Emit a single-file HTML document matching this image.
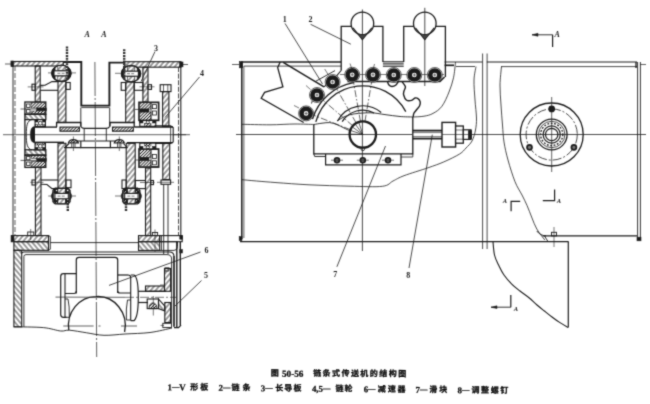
<!DOCTYPE html>
<html><head><meta charset="utf-8"><title>Fig 50-56</title>
<style>
html,body{margin:0;padding:0;background:#fff;width:650px;height:404px;overflow:hidden;}
body{width:650px;height:404px;overflow:hidden;position:relative;font-family:"Liberation Serif",serif;}
svg{position:absolute;left:0;top:0;display:block;will-change:transform;}
.cap{position:absolute;left:0;top:0;width:650px;height:404px;overflow:hidden;will-change:transform;filter:url(#sb);color:#0a0a0a;font-family:"Liberation Serif",serif;}
.cap div{position:absolute;left:0;top:0;width:650px;height:404px;}
.cap span{position:absolute;white-space:nowrap;line-height:10px;height:10px;font-weight:bold;-webkit-text-stroke:0.25px #0a0a0a;}
.r1{transform:rotate(0.3deg);transform-origin:338px 373px;}
.r2{transform:rotate(0.6deg);transform-origin:338px 389px;}
.t{font-size:9.2px;top:368.6px;}
.n{font-size:8.8px;top:383.9px;}
.n u{text-decoration:none;font-size:7.4px;position:relative;top:-1.3px;}
</style></head><body>
<svg width="650" height="404" viewBox="0 0 650 404" fill="none" stroke-linecap="butt">
<defs>
<pattern id="h1" width="3.8" height="3.8" patternUnits="userSpaceOnUse" patternTransform="rotate(-50)"><line x1="0" y1="1.9" x2="3.8" y2="1.9" stroke="#1c1c1c" stroke-width="0.85"/></pattern>
<pattern id="h2" width="3.8" height="3.8" patternUnits="userSpaceOnUse" patternTransform="rotate(50)"><line x1="0" y1="1.9" x2="3.8" y2="1.9" stroke="#1c1c1c" stroke-width="0.85"/></pattern>
<pattern id="h4" width="1.7" height="1.7" patternUnits="userSpaceOnUse" patternTransform="rotate(-45)"><line x1="0" y1="0.85" x2="1.7" y2="0.85" stroke="#1c1c1c" stroke-width="1.1"/></pattern>
<pattern id="h3" width="2.2" height="2.2" patternUnits="userSpaceOnUse" patternTransform="rotate(-45)"><line x1="0" y1="1.1" x2="2.2" y2="1.1" stroke="#1c1c1c" stroke-width="0.9"/></pattern>
<pattern id="bk" width="11" height="9" patternUnits="userSpaceOnUse"><rect width="11" height="9" fill="#1c1c1c"/><rect x="0.9" y="0.8" width="1.5" height="1.3" fill="#fff"/><path d="M3.4 3.8 L5 2.3 M7.6 7.6 L9.3 6.2 M1 7.8 L2.4 6.8 M8.3 2.6 L9.8 1.2" stroke="#fff" stroke-width="0.8"/><rect x="5.8" y="0.5" width="1.1" height="1" fill="#e4e4e4"/><rect x="4.2" y="5.4" width="1.6" height="1.2" fill="#fff"/><rect x="9.2" y="4" width="1" height="1.3" fill="#eee"/><rect x="1.2" y="4.2" width="0.9" height="1" fill="#ddd"/></pattern>
<filter id="sb" x="0" y="0" width="650" height="404" filterUnits="userSpaceOnUse" color-interpolation-filters="sRGB"><feConvolveMatrix order="3" kernelMatrix="0.03 0.1 0.03 0.1 0.48 0.1 0.03 0.1 0.03" divisor="1" edgeMode="duplicate" preserveAlpha="false"/></filter>
</defs>
<g filter="url(#sb)">
<line x1="94.9" y1="62" x2="96.7" y2="357" stroke="#1c1c1c" stroke-width="0.7" stroke-dasharray="34 2 2 2"/>
<line x1="3" y1="134.7" x2="190" y2="134.7" stroke="#1c1c1c" stroke-width="0.7"/>
<text x="87.2" y="36.8" font-family="'Liberation Serif', serif" font-size="8" font-weight="bold" text-anchor="middle" fill="#1c1c1c" font-style="italic">A</text>
<text x="103.8" y="36.8" font-family="'Liberation Serif', serif" font-size="8" font-weight="bold" text-anchor="middle" fill="#1c1c1c" font-style="italic">A</text>
<rect x="12.3" y="61.5" width="51" height="4.5" fill="url(#h1)" stroke="#1c1c1c" stroke-width="1.1"/>
<rect x="124.7" y="61.7" width="56.3" height="5.5" fill="url(#h1)" stroke="#1c1c1c" stroke-width="1.1"/>
<rect x="10.9" y="61" width="2.6" height="5.6" fill="#1c1c1c" stroke="#1c1c1c" stroke-width="0.6"/>
<rect x="179.6" y="62" width="3.4" height="4.8" fill="#1c1c1c" stroke="#1c1c1c" stroke-width="0.6"/>
<line x1="181" y1="64.5" x2="188" y2="64.5" stroke="#1c1c1c" stroke-width="0.7"/>
<line x1="5" y1="64" x2="12" y2="64" stroke="#1c1c1c" stroke-width="0.7"/>
<path d="M63.3 62 L81.3 62 L81.3 105.6 L109.4 105.6 L109.4 62.6 L124.7 62.6" fill="none" stroke="#1c1c1c" stroke-width="1.9"/>
<line x1="81.3" y1="107.6" x2="109.4" y2="107.6" stroke="#1c1c1c" stroke-width="0.8"/>
<line x1="80.8" y1="107.6" x2="80.8" y2="126.5" stroke="#1c1c1c" stroke-width="0.9"/>
<line x1="109.7" y1="107.6" x2="109.7" y2="126.5" stroke="#1c1c1c" stroke-width="0.9"/>
<line x1="13" y1="66" x2="13" y2="235.6" stroke="#1c1c1c" stroke-width="0.9"/>
<line x1="15" y1="66" x2="15" y2="235.6" stroke="#1c1c1c" stroke-width="0.7" stroke-dasharray="5 2"/>
<line x1="178.5" y1="67" x2="178.5" y2="235.6" stroke="#1c1c1c" stroke-width="0.8" stroke-dasharray="5 1.6"/>
<line x1="180.8" y1="67" x2="180.8" y2="235.6" stroke="#1c1c1c" stroke-width="1.1"/>
<rect x="35.2" y="66" width="5" height="36" fill="url(#h1)" stroke="#1c1c1c" stroke-width="1.1"/>
<rect x="35.4" y="167" width="5.6" height="68.6" fill="url(#h1)" stroke="#1c1c1c" stroke-width="1.1"/>
<rect x="142.9" y="67.2" width="5.1" height="34.8" fill="url(#h1)" stroke="#1c1c1c" stroke-width="1.1"/>
<rect x="145.5" y="168" width="5.2" height="67.6" fill="url(#h1)" stroke="#1c1c1c" stroke-width="1.1"/>
<rect x="58" y="80.7" width="7.9" height="41.8" fill="url(#h1)" stroke="#1c1c1c" stroke-width="1.1"/>
<rect x="58" y="143.3" width="7.9" height="45.3" fill="url(#h1)" stroke="#1c1c1c" stroke-width="1.1"/>
<rect x="125.7" y="82" width="8.5" height="40.5" fill="url(#h1)" stroke="#1c1c1c" stroke-width="1.1"/>
<rect x="126.2" y="143.3" width="9" height="45.3" fill="url(#h1)" stroke="#1c1c1c" stroke-width="1.1"/>
<rect x="160.2" y="84.7" width="10.8" height="6.9" fill="none" stroke="#1c1c1c" stroke-width="1.1"/>
<line x1="163.5" y1="84.7" x2="163.5" y2="91.6" stroke="#1c1c1c" stroke-width="0.7"/>
<line x1="167.8" y1="84.7" x2="167.8" y2="91.6" stroke="#1c1c1c" stroke-width="0.7"/>
<rect x="162.6" y="91.6" width="6.3" height="34.9" fill="url(#h1)" stroke="#1c1c1c" stroke-width="1.1"/>
<rect x="162.8" y="143" width="6.9" height="36.5" fill="url(#h1)" stroke="#1c1c1c" stroke-width="1.1"/>
<rect x="161" y="180" width="9.6" height="4.3" fill="none" stroke="#1c1c1c" stroke-width="1.1"/>
<line x1="163.7" y1="184.3" x2="163.7" y2="254" stroke="#1c1c1c" stroke-width="0.9"/>
<line x1="168" y1="184.3" x2="168" y2="254" stroke="#1c1c1c" stroke-width="0.9"/>
<line x1="157" y1="182.3" x2="174" y2="182.3" stroke="#1c1c1c" stroke-width="0.6"/>
<ellipse cx="61.4" cy="73.3" rx="9.5" ry="8.2" fill="#fff" stroke="#1c1c1c" stroke-width="1.4"/>
<rect x="57.8" y="65.6" width="7.4" height="5.1" fill="url(#h1)" stroke="#1c1c1c" stroke-width="0.6"/>
<rect x="57.8" y="75.9" width="7.4" height="5.1" fill="url(#h1)" stroke="#1c1c1c" stroke-width="0.6"/>
<path d="M51.4 73.3 A10 8.2 0 0 1 55.2 67.1 L55.2 79.5 A10 8.2 0 0 1 51.4 73.3Z" fill="#1c1c1c" stroke="#1c1c1c" stroke-width="0.5"/>
<path d="M71.4 73.3 A10 8.2 0 0 0 67.6 67.1 L67.6 79.5 A10 8.2 0 0 0 71.4 73.3Z" fill="#1c1c1c" stroke="#1c1c1c" stroke-width="0.5"/>
<rect x="54" y="70.8" width="14.8" height="5" fill="#fff" stroke="#1c1c1c" stroke-width="1.1"/>
<line x1="57.4" y1="73.3" x2="65.4" y2="73.3" stroke="#1c1c1c" stroke-width="0.6" stroke-dasharray="3 1.2"/>
<ellipse cx="131" cy="73.7" rx="9.5" ry="8.2" fill="#fff" stroke="#1c1c1c" stroke-width="1.4"/>
<rect x="127.4" y="66" width="7.4" height="5.1" fill="url(#h1)" stroke="#1c1c1c" stroke-width="0.6"/>
<rect x="127.4" y="76.3" width="7.4" height="5.1" fill="url(#h1)" stroke="#1c1c1c" stroke-width="0.6"/>
<path d="M121 73.7 A10 8.2 0 0 1 124.8 67.5 L124.8 79.9 A10 8.2 0 0 1 121 73.7Z" fill="#1c1c1c" stroke="#1c1c1c" stroke-width="0.5"/>
<path d="M141 73.7 A10 8.2 0 0 0 137.2 67.5 L137.2 79.9 A10 8.2 0 0 0 141 73.7Z" fill="#1c1c1c" stroke="#1c1c1c" stroke-width="0.5"/>
<rect x="123.6" y="71.2" width="14.8" height="5" fill="#fff" stroke="#1c1c1c" stroke-width="1.1"/>
<line x1="127" y1="73.7" x2="135" y2="73.7" stroke="#1c1c1c" stroke-width="0.6" stroke-dasharray="3 1.2"/>
<path d="M55.2 188.3 L67.8 188.3 L70 190.5 L70 201.7 L67.8 203.9 L55.2 203.9 L53 201.7 L53 190.5 Z" fill="#fff" stroke="#1c1c1c" stroke-width="1.4"/>
<rect x="53.8" y="188.9" width="4.1" height="4.6" fill="url(#bk)" stroke="#1c1c1c" stroke-width="0.4"/>
<rect x="53.8" y="198.7" width="4.1" height="4.6" fill="url(#bk)" stroke="#1c1c1c" stroke-width="0.4"/>
<rect x="65.3" y="188.9" width="3.9" height="4.6" fill="url(#bk)" stroke="#1c1c1c" stroke-width="0.4"/>
<rect x="65.3" y="198.7" width="3.9" height="4.6" fill="url(#bk)" stroke="#1c1c1c" stroke-width="0.4"/>
<rect x="57.9" y="188.3" width="7.4" height="5.2" fill="url(#h1)" stroke="#1c1c1c" stroke-width="0.6"/>
<rect x="57.9" y="198.7" width="7.4" height="5.2" fill="url(#h1)" stroke="#1c1c1c" stroke-width="0.6"/>
<path d="M53 192.3 Q49.6 196.1 53 199.9Z" fill="#1c1c1c" stroke="#1c1c1c" stroke-width="0.6"/>
<path d="M70 192.3 Q73.4 196.1 70 199.9Z" fill="#1c1c1c" stroke="#1c1c1c" stroke-width="0.6"/>
<rect x="54.9" y="193.4" width="13.4" height="5.4" fill="#fff" stroke="#1c1c1c" stroke-width="1.1"/>
<line x1="57.5" y1="196.1" x2="65.5" y2="196.1" stroke="#1c1c1c" stroke-width="0.6" stroke-dasharray="3 1.2"/>
<path d="M125 188.3 L137.6 188.3 L139.8 190.5 L139.8 201.7 L137.6 203.9 L125 203.9 L122.8 201.7 L122.8 190.5 Z" fill="#fff" stroke="#1c1c1c" stroke-width="1.4"/>
<rect x="123.6" y="188.9" width="4.1" height="4.6" fill="url(#bk)" stroke="#1c1c1c" stroke-width="0.4"/>
<rect x="123.6" y="198.7" width="4.1" height="4.6" fill="url(#bk)" stroke="#1c1c1c" stroke-width="0.4"/>
<rect x="135.1" y="188.9" width="3.9" height="4.6" fill="url(#bk)" stroke="#1c1c1c" stroke-width="0.4"/>
<rect x="135.1" y="198.7" width="3.9" height="4.6" fill="url(#bk)" stroke="#1c1c1c" stroke-width="0.4"/>
<rect x="127.7" y="188.3" width="7.4" height="5.2" fill="url(#h1)" stroke="#1c1c1c" stroke-width="0.6"/>
<rect x="127.7" y="198.7" width="7.4" height="5.2" fill="url(#h1)" stroke="#1c1c1c" stroke-width="0.6"/>
<path d="M122.8 192.3 Q119.4 196.1 122.8 199.9Z" fill="#1c1c1c" stroke="#1c1c1c" stroke-width="0.6"/>
<path d="M139.8 192.3 Q143.2 196.1 139.8 199.9Z" fill="#1c1c1c" stroke="#1c1c1c" stroke-width="0.6"/>
<rect x="124.7" y="193.4" width="13.4" height="5.4" fill="#fff" stroke="#1c1c1c" stroke-width="1.1"/>
<line x1="127.3" y1="196.1" x2="135.3" y2="196.1" stroke="#1c1c1c" stroke-width="0.6" stroke-dasharray="3 1.2"/>
<line x1="72" y1="72.9" x2="76" y2="72.9" stroke="#1c1c1c" stroke-width="0.6"/>
<line x1="115" y1="73.3" x2="120.5" y2="73.3" stroke="#1c1c1c" stroke-width="0.6"/>
<line x1="48" y1="72.9" x2="51.4" y2="72.9" stroke="#1c1c1c" stroke-width="0.6"/>
<line x1="72" y1="196" x2="76" y2="196" stroke="#1c1c1c" stroke-width="0.6"/>
<line x1="115" y1="196" x2="121" y2="196" stroke="#1c1c1c" stroke-width="0.6"/>
<line x1="48.2" y1="196" x2="52.4" y2="196" stroke="#1c1c1c" stroke-width="0.6"/>
<line x1="67" y1="46.5" x2="67" y2="80" stroke="#333" stroke-width="2.4" stroke-dasharray="2 0.8"/>
<line x1="124.2" y1="49.3" x2="124.2" y2="80" stroke="#333" stroke-width="2.4" stroke-dasharray="2 0.8"/>
<line x1="67.8" y1="203.5" x2="67.8" y2="212" stroke="#333" stroke-width="2.4" stroke-dasharray="2 0.8"/>
<line x1="126" y1="203.5" x2="126" y2="212" stroke="#333" stroke-width="2.4" stroke-dasharray="2 0.8"/>
<rect x="32" y="84.2" width="3.2" height="6.1" fill="none" stroke="#1c1c1c" stroke-width="1.1"/>
<line x1="27.7" y1="86.9" x2="43.5" y2="86.9" stroke="#1c1c1c" stroke-width="0.6"/>
<path d="M40.2 85.4 L45 85.2 L52 81.6 L58 81.6" fill="none" stroke="#1c1c1c" stroke-width="1.1"/>
<line x1="40.2" y1="90.3" x2="58" y2="90.3" stroke="#1c1c1c" stroke-width="1.1"/>
<rect x="65.9" y="82.5" width="4.3" height="6.9" fill="none" stroke="#1c1c1c" stroke-width="1.1"/>
<rect x="121.2" y="82.5" width="4.5" height="7.8" fill="none" stroke="#1c1c1c" stroke-width="1.1"/>
<rect x="134.2" y="82.5" width="8.7" height="7.8" fill="none" stroke="#1c1c1c" stroke-width="1.1"/>
<line x1="139.5" y1="86.8" x2="154.5" y2="86.8" stroke="#1c1c1c" stroke-width="0.6"/>
<rect x="148" y="84.7" width="3.5" height="4.7" fill="none" stroke="#1c1c1c" stroke-width="1.1"/>
<rect x="32" y="180" width="3.4" height="5" fill="none" stroke="#1c1c1c" stroke-width="1.1"/>
<line x1="30.3" y1="182.3" x2="43.5" y2="182.3" stroke="#1c1c1c" stroke-width="0.6"/>
<path d="M41 180 L58 180" fill="none" stroke="#1c1c1c" stroke-width="1.1"/>
<path d="M41 184.3 L47 184.5 L52 188.6 L58 188.6" fill="none" stroke="#1c1c1c" stroke-width="1.1"/>
<rect x="65.9" y="180" width="5.1" height="7.7" fill="none" stroke="#1c1c1c" stroke-width="1.1"/>
<rect x="122" y="180" width="4.2" height="8.6" fill="none" stroke="#1c1c1c" stroke-width="1.1"/>
<rect x="135.2" y="180.5" width="10.3" height="8.1" fill="none" stroke="#1c1c1c" stroke-width="1.1"/>
<line x1="140" y1="182.5" x2="154.5" y2="182.5" stroke="#1c1c1c" stroke-width="0.6"/>
<rect x="150.7" y="180.5" width="2.8" height="4.1" fill="none" stroke="#1c1c1c" stroke-width="1.1"/>
<rect x="24.9" y="102" width="20.9" height="12.3" fill="#fff" stroke="#1c1c1c" stroke-width="1.3"/>
<rect x="31" y="102.6" width="14.2" height="5.4" fill="url(#h3)" stroke="#1c1c1c" stroke-width="0.5"/>
<rect x="31" y="111" width="14.2" height="2.8" fill="url(#h3)" stroke="#1c1c1c" stroke-width="0.5"/>
<rect x="26.6" y="104" width="3.4" height="3.4" fill="#fff" stroke="#1c1c1c" stroke-width="0.8"/>
<rect x="26.6" y="109.6" width="3.4" height="3.4" fill="#fff" stroke="#1c1c1c" stroke-width="0.8"/>
<rect x="36.5" y="108" width="9.8" height="2.8" fill="#1c1c1c" stroke="#1c1c1c" stroke-width="0.5"/>
<rect x="24.9" y="114.3" width="20.9" height="5.3" fill="url(#h2)" stroke="#1c1c1c" stroke-width="1.3"/>
<rect x="35.1" y="119.6" width="10.3" height="7" fill="#fff" stroke="#1c1c1c" stroke-width="1.1"/>
<rect x="35.1" y="119.6" width="2.9" height="2.4" fill="#1c1c1c" stroke="#1c1c1c" stroke-width="0.5"/>
<rect x="42.6" y="119.6" width="2.8" height="2.4" fill="#1c1c1c" stroke="#1c1c1c" stroke-width="0.5"/>
<rect x="35.1" y="124.4" width="2.9" height="2.2" fill="url(#h3)" stroke="#1c1c1c" stroke-width="0.5"/>
<rect x="42.6" y="124.4" width="2.8" height="2.2" fill="url(#h3)" stroke="#1c1c1c" stroke-width="0.5"/>
<circle cx="40.3" cy="123.2" r="1.9" fill="none" stroke="#1c1c1c" stroke-width="0.9"/>
<line x1="20.5" y1="109" x2="36" y2="109" stroke="#1c1c1c" stroke-width="0.7"/>
<rect x="24.9" y="155.1" width="20.9" height="12.3" fill="#fff" stroke="#1c1c1c" stroke-width="1.3"/>
<rect x="31" y="161.4" width="14.2" height="5.4" fill="url(#h3)" stroke="#1c1c1c" stroke-width="0.5"/>
<rect x="31" y="155.6" width="14.2" height="2.8" fill="url(#h3)" stroke="#1c1c1c" stroke-width="0.5"/>
<rect x="26.6" y="162" width="3.4" height="3.4" fill="#fff" stroke="#1c1c1c" stroke-width="0.8"/>
<rect x="26.6" y="156.4" width="3.4" height="3.4" fill="#fff" stroke="#1c1c1c" stroke-width="0.8"/>
<rect x="36.5" y="158.6" width="9.8" height="2.8" fill="#1c1c1c" stroke="#1c1c1c" stroke-width="0.5"/>
<rect x="24.9" y="149.8" width="20.9" height="5.3" fill="url(#h2)" stroke="#1c1c1c" stroke-width="1.3"/>
<rect x="35.1" y="142.8" width="10.3" height="7" fill="#fff" stroke="#1c1c1c" stroke-width="1.1"/>
<rect x="35.1" y="147.4" width="2.9" height="2.4" fill="#1c1c1c" stroke="#1c1c1c" stroke-width="0.5"/>
<rect x="42.6" y="147.4" width="2.8" height="2.4" fill="#1c1c1c" stroke="#1c1c1c" stroke-width="0.5"/>
<rect x="35.1" y="142.8" width="2.9" height="2.2" fill="url(#h3)" stroke="#1c1c1c" stroke-width="0.5"/>
<rect x="42.6" y="142.8" width="2.8" height="2.2" fill="url(#h3)" stroke="#1c1c1c" stroke-width="0.5"/>
<circle cx="40.3" cy="146.2" r="1.9" fill="none" stroke="#1c1c1c" stroke-width="0.9"/>
<line x1="20.5" y1="160.4" x2="36" y2="160.4" stroke="#1c1c1c" stroke-width="0.7"/>
<line x1="24.9" y1="119.6" x2="24.9" y2="149.8" stroke="#1c1c1c" stroke-width="1.3"/>
<rect x="138.9" y="102.2" width="19.9" height="18.3" fill="#fff" stroke="#1c1c1c" stroke-width="1.4"/>
<rect x="139.6" y="102.8" width="11.4" height="6.2" fill="url(#h3)" stroke="#1c1c1c" stroke-width="0.5"/>
<rect x="139.6" y="112" width="11.4" height="8" fill="url(#h3)" stroke="#1c1c1c" stroke-width="0.5"/>
<rect x="139.6" y="109" width="9.4" height="3" fill="#1c1c1c" stroke="#1c1c1c" stroke-width="0.5"/>
<rect x="152.4" y="104.6" width="4" height="4" fill="#fff" stroke="#1c1c1c" stroke-width="0.8"/>
<rect x="152.4" y="111" width="4" height="4" fill="#fff" stroke="#1c1c1c" stroke-width="0.8"/>
<rect x="151" y="102.8" width="7.2" height="17.2" fill="none" stroke="#1c1c1c" stroke-width="0.8"/>
<rect x="139.8" y="120.5" width="16" height="5.8" fill="#fff" stroke="#1c1c1c" stroke-width="1.1"/>
<rect x="139.8" y="120.5" width="3.2" height="2.5" fill="#1c1c1c" stroke="#1c1c1c" stroke-width="0.5"/>
<rect x="152.6" y="120.5" width="3.2" height="2.5" fill="#1c1c1c" stroke="#1c1c1c" stroke-width="0.5"/>
<rect x="144.5" y="123.4" width="6.5" height="2.9" fill="url(#h3)" stroke="#1c1c1c" stroke-width="0.5"/>
<circle cx="147.8" cy="122.2" r="1.6" fill="none" stroke="#1c1c1c" stroke-width="0.8"/>
<line x1="135" y1="109.4" x2="139" y2="109.4" stroke="#1c1c1c" stroke-width="0.7"/>
<rect x="138.9" y="148.9" width="19.9" height="18.3" fill="#fff" stroke="#1c1c1c" stroke-width="1.4"/>
<rect x="139.6" y="160.4" width="11.4" height="6.2" fill="url(#h3)" stroke="#1c1c1c" stroke-width="0.5"/>
<rect x="139.6" y="149.4" width="11.4" height="8" fill="url(#h3)" stroke="#1c1c1c" stroke-width="0.5"/>
<rect x="139.6" y="157.4" width="9.4" height="3" fill="#1c1c1c" stroke="#1c1c1c" stroke-width="0.5"/>
<rect x="152.4" y="160.8" width="4" height="4" fill="#fff" stroke="#1c1c1c" stroke-width="0.8"/>
<rect x="152.4" y="154.4" width="4" height="4" fill="#fff" stroke="#1c1c1c" stroke-width="0.8"/>
<rect x="151" y="149.4" width="7.2" height="17.2" fill="none" stroke="#1c1c1c" stroke-width="0.8"/>
<rect x="139.8" y="143.1" width="16" height="5.8" fill="#fff" stroke="#1c1c1c" stroke-width="1.1"/>
<rect x="139.8" y="146.4" width="3.2" height="2.5" fill="#1c1c1c" stroke="#1c1c1c" stroke-width="0.5"/>
<rect x="152.6" y="146.4" width="3.2" height="2.5" fill="#1c1c1c" stroke="#1c1c1c" stroke-width="0.5"/>
<rect x="144.5" y="143.1" width="6.5" height="2.9" fill="url(#h3)" stroke="#1c1c1c" stroke-width="0.5"/>
<circle cx="147.8" cy="147.2" r="1.6" fill="none" stroke="#1c1c1c" stroke-width="0.8"/>
<line x1="135" y1="160" x2="139" y2="160" stroke="#1c1c1c" stroke-width="0.7"/>
<path d="M34.4 126.6 C31.4 127 30.4 130 30.4 134.7 C30.4 139.4 31.4 142.4 34.4 142.8 Z" fill="#1c1c1c" stroke="#1c1c1c" stroke-width="0.5"/>
<path d="M32 119.5 C27 120.5 26.3 126 26.3 134.7 C26.3 143.4 27 149 32 150" fill="none" stroke="#1c1c1c" stroke-width="0.9"/>
<line x1="34.4" y1="127.1" x2="57" y2="127.1" stroke="#1c1c1c" stroke-width="1.4"/>
<line x1="34.4" y1="142.3" x2="64" y2="142.3" stroke="#1c1c1c" stroke-width="1.4"/>
<line x1="34.4" y1="127.1" x2="34.4" y2="142.3" stroke="#1c1c1c" stroke-width="1.1"/>
<path d="M56.6 127 L56.6 122.5 L80.8 122.5 L80.8 126.5" fill="none" stroke="#1c1c1c" stroke-width="1.3"/>
<path d="M110 126.5 L110 122.5 L134.2 122.5 L134.2 127" fill="none" stroke="#1c1c1c" stroke-width="1.3"/>
<rect x="60" y="127.1" width="19.4" height="4.1" fill="url(#h3)" stroke="#1c1c1c" stroke-width="1.1"/>
<rect x="112.5" y="127.1" width="20.8" height="4.1" fill="url(#h3)" stroke="#1c1c1c" stroke-width="1.1"/>
<path d="M80.8 126.5 C82 128.2 83 128.4 84.5 128.4 L106 128.4 C107.5 128.4 108.6 128.2 109.7 126.5" fill="none" stroke="#1c1c1c" stroke-width="1.3"/>
<line x1="84.2" y1="128.4" x2="84.2" y2="141" stroke="#1c1c1c" stroke-width="0.9"/>
<line x1="106.3" y1="128.4" x2="106.3" y2="141" stroke="#1c1c1c" stroke-width="0.9"/>
<path d="M80.8 141 L80.8 147.7 L110.4 147.7 L110.4 141" fill="none" stroke="#1c1c1c" stroke-width="1.2"/>
<line x1="76" y1="141" x2="115" y2="141" stroke="#1c1c1c" stroke-width="1.2"/>
<line x1="64" y1="147.6" x2="80.8" y2="147.6" stroke="#1c1c1c" stroke-width="1.2"/>
<line x1="110.4" y1="147.6" x2="127" y2="147.6" stroke="#1c1c1c" stroke-width="1.2"/>
<path d="M68.4 143 C69.4 138.5 77.4 138.5 78.4 143 Z" fill="url(#h3)" stroke="#1c1c1c" stroke-width="1.2"/>
<rect x="71.8" y="143" width="3.2" height="4.4" fill="#fff" stroke="#1c1c1c" stroke-width="0.8"/>
<line x1="73.4" y1="136.5" x2="73.4" y2="151" stroke="#1c1c1c" stroke-width="0.6"/>
<path d="M114.3 143 C115.3 138.5 123.3 138.5 124.3 143 Z" fill="url(#h3)" stroke="#1c1c1c" stroke-width="1.2"/>
<rect x="117.7" y="143" width="3.2" height="4.4" fill="#fff" stroke="#1c1c1c" stroke-width="0.8"/>
<line x1="119.3" y1="136.5" x2="119.3" y2="151" stroke="#1c1c1c" stroke-width="0.6"/>
<line x1="64.5" y1="148" x2="69" y2="143.5" stroke="#1c1c1c" stroke-width="1.1"/>
<line x1="127.5" y1="148" x2="123.5" y2="143.5" stroke="#1c1c1c" stroke-width="1.1"/>
<line x1="134.2" y1="127" x2="173" y2="127" stroke="#1c1c1c" stroke-width="1.4"/>
<line x1="127" y1="142.6" x2="173" y2="142.6" stroke="#1c1c1c" stroke-width="1.4"/>
<path d="M155 127 L155 125.8 L170.6 125.8 L173.2 127.5 L173.2 142 L170.6 143.4 L155 143.4" fill="none" stroke="#1c1c1c" stroke-width="1.1"/>
<line x1="170.6" y1="126" x2="170.6" y2="143.4" stroke="#1c1c1c" stroke-width="0.8"/>
<line x1="173" y1="134.7" x2="186" y2="134.7" stroke="#1c1c1c" stroke-width="0.7"/>
<rect x="11.3" y="235.6" width="37.2" height="6.1" fill="url(#h1)" stroke="#1c1c1c" stroke-width="1.1"/>
<rect x="13.9" y="241.7" width="34.6" height="8.6" fill="url(#h2)" stroke="#1c1c1c" stroke-width="1.1"/>
<path d="M48.5 235.6 L50.3 236.5 L50.3 249.3 L48.5 250.3" fill="none" stroke="#1c1c1c" stroke-width="0.9"/>
<rect x="11.6" y="236.2" width="2.4" height="4.8" fill="#1c1c1c" stroke="#1c1c1c" stroke-width="0.6"/>
<rect x="27.7" y="232" width="6.1" height="3.6" fill="none" stroke="#1c1c1c" stroke-width="0.9"/>
<line x1="30.7" y1="229" x2="30.7" y2="240" stroke="#1c1c1c" stroke-width="0.6"/>
<rect x="138.5" y="235.6" width="21.2" height="6.1" fill="url(#h1)" stroke="#1c1c1c" stroke-width="1.1"/>
<rect x="159.7" y="235.6" width="22.5" height="6.1" fill="none" stroke="#1c1c1c" stroke-width="1.1"/>
<rect x="138.5" y="241.7" width="21.2" height="8.7" fill="url(#h2)" stroke="#1c1c1c" stroke-width="1.1"/>
<path d="M159.7 241.7 L177.5 241.7 L177.5 246.5 Q177.5 250.4 174 250.4 L159.7 250.4" fill="none" stroke="#1c1c1c" stroke-width="0.9"/>
<line x1="161.5" y1="235.6" x2="161.5" y2="250.4" stroke="#1c1c1c" stroke-width="0.8"/>
<rect x="152.4" y="232.5" width="5.2" height="3.1" fill="none" stroke="#1c1c1c" stroke-width="0.9"/>
<line x1="155" y1="229.5" x2="155" y2="252" stroke="#1c1c1c" stroke-width="0.6"/>
<rect x="179.8" y="235.8" width="2.6" height="3.4" fill="#1c1c1c" stroke="#1c1c1c" stroke-width="0.6"/>
<rect x="179.8" y="249.6" width="2.6" height="3.4" fill="#1c1c1c" stroke="#1c1c1c" stroke-width="0.6"/>
<line x1="50.3" y1="242.6" x2="138.5" y2="242.6" stroke="#1c1c1c" stroke-width="0.9"/>
<rect x="13.9" y="250.3" width="7.8" height="76.5" fill="url(#h2)" stroke="#1c1c1c" stroke-width="1.1"/>
<path d="M23.9 326.8 L23.9 256.5 Q23.9 254.6 26 254.6 L167 254.6 Q171.6 254.6 171.6 259 L171.6 323" fill="none" stroke="#1c1c1c" stroke-width="0.9"/>
<path d="M21.7 253.5 Q22 252 24 252 L169.5 252 Q174 252 174 256.5 L174 326" fill="none" stroke="#1c1c1c" stroke-width="1.1"/>
<line x1="174" y1="256" x2="174" y2="327" stroke="#1c1c1c" stroke-width="1.3"/>
<line x1="176.8" y1="241.7" x2="176.8" y2="327" stroke="#1c1c1c" stroke-width="1.4"/>
<line x1="180.3" y1="241.7" x2="180.3" y2="325" stroke="#1c1c1c" stroke-width="1.4"/>
<path d="M174 327.6 L178.5 327.6 L181 325" fill="none" stroke="#1c1c1c" stroke-width="1.3"/>
<path d="M13.9 326.8 C18.8 326.9 35.5 326.9 43.3 327.6 C51.1 328.3 56.4 330.6 60.7 331 C65 331.4 65 329.9 69.3 330.2 C73.6 330.5 80.9 331.9 86.7 332.8 C92.5 333.7 97.6 335.1 104 335.3 C110.4 335.5 117.3 334.5 125 334 C132.7 333.5 142.2 333.5 150 332.5 C157.8 331.5 168.3 328.8 172 328" fill="none" stroke="#1c1c1c" stroke-width="0.9"/>
<path d="M76.3 293.5 L76.3 260 Q76.3 257.3 79 257.3 L115 257.3 Q117.7 257.3 117.7 260 L117.7 293" fill="none" stroke="#1c1c1c" stroke-width="1.2"/>
<path d="M76.3 273.7 L63.5 273.7 Q60.7 273.7 60.7 276.5 L60.7 314.5 Q60.7 317.3 63.5 317.3 L66.5 317.3" fill="none" stroke="#1c1c1c" stroke-width="1.2"/>
<path d="M117.7 275 L128 275" fill="none" stroke="#1c1c1c" stroke-width="1.2"/>
<line x1="65" y1="273.7" x2="65" y2="317.3" stroke="#1c1c1c" stroke-width="1.1"/>
<path d="M76.3 291 Q76.3 293.5 74 293.5 L65 293.5" fill="none" stroke="#1c1c1c" stroke-width="1.1"/>
<path d="M65 299 L68 299 Q69.6 306 69.3 317.3 L65 317.3" fill="none" stroke="#1c1c1c" stroke-width="0.9"/>
<path d="M117.7 291 Q117.7 293 120 293 L130.7 293" fill="none" stroke="#1c1c1c" stroke-width="1.1"/>
<path d="M128 275 Q130.7 275 130.7 277.5 L130.7 320.5" fill="none" stroke="#1c1c1c" stroke-width="1.1"/>
<path d="M130.7 275 L134 275 Q138.3 277 138.3 297 Q138.3 317 134 320.7 L130.7 320.7" fill="none" stroke="#1c1c1c" stroke-width="1.2"/>
<path d="M126.4 320 Q125.8 308 127.5 300 L130.7 300" fill="none" stroke="#1c1c1c" stroke-width="0.9"/>
<line x1="126.4" y1="320" x2="130.7" y2="320" stroke="#1c1c1c" stroke-width="0.9"/>
<path d="M68.8 330 A27.5 29 0 0 1 96 296.6 A27.5 29 0 0 1 124.6 332" fill="none" stroke="#1c1c1c" stroke-width="1.3"/>
<line x1="55.5" y1="297.1" x2="125" y2="297.3" stroke="#1c1c1c" stroke-width="0.7"/>
<line x1="63.3" y1="326" x2="93.6" y2="326" stroke="#1c1c1c" stroke-width="0.7"/>
<line x1="98.5" y1="326" x2="100.5" y2="326" stroke="#1c1c1c" stroke-width="0.7"/>
<line x1="121" y1="326" x2="137" y2="326" stroke="#1c1c1c" stroke-width="0.7"/>
<line x1="138.3" y1="291.3" x2="166" y2="291.3" stroke="#1c1c1c" stroke-width="1.2"/>
<line x1="138.3" y1="302.5" x2="148" y2="302.5" stroke="#1c1c1c" stroke-width="1.2"/>
<line x1="125" y1="297.3" x2="176" y2="297.3" stroke="#1c1c1c" stroke-width="0.6" stroke-dasharray="9 2 2 2"/>
<rect x="145.5" y="286" width="19" height="5.3" fill="url(#h1)" stroke="#1c1c1c" stroke-width="1.1"/>
<rect x="164.5" y="268.5" width="6.1" height="22.8" fill="url(#h1)" stroke="#1c1c1c" stroke-width="1.1"/>
<rect x="164.8" y="302.5" width="5.8" height="20" fill="url(#h1)" stroke="#1c1c1c" stroke-width="1.1"/>
<path d="M158.5 299 L164.8 306 L164.8 311 L158.5 308.6 Z" fill="url(#h2)" stroke="#1c1c1c" stroke-width="1.1"/>
<rect x="147.2" y="299" width="11.3" height="9.6" fill="none" stroke="#1c1c1c" stroke-width="1.1"/>
<path d="M149 308.6 C149 301 157 301 157 308.6 Z" fill="url(#h3)" stroke="#1c1c1c" stroke-width="0.9"/>
<line x1="153.3" y1="296" x2="153.3" y2="315.5" stroke="#1c1c1c" stroke-width="0.6"/>
<rect x="165" y="267.8" width="4" height="3.2" fill="none" stroke="#1c1c1c" stroke-width="0.8"/>
<line x1="160" y1="285" x2="164.5" y2="285" stroke="#1c1c1c" stroke-width="0.6"/>
<rect x="162.8" y="323.3" width="8.7" height="4.2" fill="none" stroke="#1c1c1c" stroke-width="0.9"/>
<line x1="160.5" y1="325.4" x2="164" y2="325.4" stroke="#1c1c1c" stroke-width="0.6"/>
<text x="156" y="51.3" font-family="'Liberation Serif', serif" font-size="8" font-weight="bold" text-anchor="middle" fill="#1c1c1c" >3</text>
<line x1="155" y1="51.5" x2="141" y2="81.6" stroke="#1c1c1c" stroke-width="0.8"/>
<text x="202" y="76.3" font-family="'Liberation Serif', serif" font-size="8" font-weight="bold" text-anchor="middle" fill="#1c1c1c" >4</text>
<line x1="199.5" y1="77" x2="165" y2="117.5" stroke="#1c1c1c" stroke-width="0.8"/>
<text x="206.6" y="253" font-family="'Liberation Serif', serif" font-size="8" font-weight="bold" text-anchor="middle" fill="#1c1c1c" >6</text>
<line x1="200.5" y1="252" x2="109" y2="285.4" stroke="#1c1c1c" stroke-width="0.8"/>
<text x="206" y="278" font-family="'Liberation Serif', serif" font-size="8" font-weight="bold" text-anchor="middle" fill="#1c1c1c" >5</text>
<line x1="201.5" y1="280.5" x2="175" y2="306" stroke="#1c1c1c" stroke-width="0.8"/>
<line x1="362.4" y1="9.5" x2="362.4" y2="251" stroke="#1c1c1c" stroke-width="0.8"/>
<line x1="424.8" y1="7.8" x2="424.8" y2="86" stroke="#1c1c1c" stroke-width="0.8"/>
<line x1="236" y1="134.5" x2="412" y2="134.5" stroke="#1c1c1c" stroke-width="0.8"/>
<line x1="471" y1="134.5" x2="646" y2="134.5" stroke="#1c1c1c" stroke-width="0.8"/>
<line x1="241.8" y1="62" x2="241.8" y2="239" stroke="#1c1c1c" stroke-width="1.5"/>
<line x1="243.9" y1="66" x2="243.9" y2="238" stroke="#1c1c1c" stroke-width="0.7"/>
<rect x="239.5" y="61.6" width="3.1" height="6.2" fill="#1c1c1c" stroke="#1c1c1c" stroke-width="0.6"/>
<line x1="232" y1="64.5" x2="239" y2="64.5" stroke="#1c1c1c" stroke-width="0.7"/>
<rect x="239.2" y="236.6" width="2.8" height="4" fill="#1c1c1c" stroke="#1c1c1c" stroke-width="0.6"/>
<line x1="241" y1="62" x2="341" y2="62" stroke="#1c1c1c" stroke-width="1.5"/>
<line x1="244" y1="66.1" x2="341" y2="66.1" stroke="#1c1c1c" stroke-width="0.8"/>
<line x1="382.9" y1="61.8" x2="403.7" y2="61.8" stroke="#1c1c1c" stroke-width="1.1"/>
<line x1="382.9" y1="63.9" x2="403.7" y2="63.9" stroke="#1c1c1c" stroke-width="1.1"/>
<line x1="382.9" y1="66.2" x2="403.7" y2="66.2" stroke="#1c1c1c" stroke-width="1.1"/>
<line x1="444.6" y1="62" x2="482.5" y2="62" stroke="#1c1c1c" stroke-width="0.9"/>
<line x1="444.6" y1="65.3" x2="454" y2="65.3" stroke="#1c1c1c" stroke-width="1.7"/>
<line x1="456" y1="66.5" x2="475" y2="66.5" stroke="#1c1c1c" stroke-width="0.8"/>
<line x1="486.8" y1="62" x2="637" y2="62" stroke="#1c1c1c" stroke-width="1.1"/>
<line x1="501" y1="66.6" x2="637" y2="66.6" stroke="#1c1c1c" stroke-width="0.8"/>
<line x1="482.6" y1="53.5" x2="482.6" y2="249" stroke="#1c1c1c" stroke-width="0.8"/>
<line x1="487.1" y1="53.5" x2="487.1" y2="249" stroke="#1c1c1c" stroke-width="0.8"/>
<line x1="637.6" y1="62" x2="637.6" y2="239" stroke="#1c1c1c" stroke-width="0.9"/>
<line x1="640.4" y1="62" x2="640.4" y2="239" stroke="#1c1c1c" stroke-width="0.9"/>
<line x1="636" y1="62" x2="636" y2="68" stroke="#1c1c1c" stroke-width="1.3"/>
<line x1="640" y1="64.5" x2="646" y2="64.5" stroke="#1c1c1c" stroke-width="0.7"/>
<rect x="637" y="237.2" width="4" height="3.6" fill="#1c1c1c" stroke="#1c1c1c" stroke-width="0.6"/>
<line x1="240" y1="241.6" x2="568.5" y2="241.6" stroke="#1c1c1c" stroke-width="1.1"/>
<line x1="542.8" y1="235.9" x2="637" y2="235.9" stroke="#1c1c1c" stroke-width="1.1"/>
<line x1="568.3" y1="241.6" x2="568.3" y2="327.4" stroke="#1c1c1c" stroke-width="1.2"/>
<rect x="551.5" y="232.3" width="5" height="3.6" fill="none" stroke="#1c1c1c" stroke-width="0.9"/>
<line x1="554" y1="227" x2="554" y2="247" stroke="#1c1c1c" stroke-width="0.6"/>
<path d="M536.8 231 Q540 235.5 546 235.9" fill="none" stroke="#1c1c1c" stroke-width="0.9"/>
<line x1="544.5" y1="235.9" x2="548" y2="241.6" stroke="#1c1c1c" stroke-width="0.9"/>
<path d="M341.2 70 L341.2 26.3 L351.5 26.3" fill="none" stroke="#1c1c1c" stroke-width="1.3"/>
<path d="M373.3 26.3 L382.9 26.3 L382.9 62" fill="none" stroke="#1c1c1c" stroke-width="1.3"/>
<circle cx="362.4" cy="23.4" r="11.3" fill="none" stroke="#1c1c1c" stroke-width="1.3"/>
<path d="M353 27.9 L362.4 39.6 L371.8 27.9" fill="none" stroke="#1c1c1c" stroke-width="1.1"/>
<path d="M358.8 34.1 L362.4 39.6 L366 34.1 A11.3 11.3 0 0 1 358.8 34.1Z" fill="#444" stroke="#1c1c1c" stroke-width="0.5"/>
<path d="M403.7 62 L403.7 26.3 L413.9 26.3" fill="none" stroke="#1c1c1c" stroke-width="1.3"/>
<path d="M435.7 26.3 L445.4 26.3 L445.4 77" fill="none" stroke="#1c1c1c" stroke-width="1.3"/>
<circle cx="424.8" cy="23.4" r="11.3" fill="none" stroke="#1c1c1c" stroke-width="1.3"/>
<path d="M415.4 27.9 L424.8 39.6 L434.2 27.9" fill="none" stroke="#1c1c1c" stroke-width="1.1"/>
<path d="M421.2 34.1 L424.8 39.6 L428.4 34.1 A11.3 11.3 0 0 1 421.2 34.1Z" fill="#444" stroke="#1c1c1c" stroke-width="0.5"/>
<path d="M347.5 81.6 L440 81.6 L444.6 77" fill="none" stroke="#1c1c1c" stroke-width="1.5"/>
<line x1="340" y1="74.5" x2="444" y2="74.5" stroke="#1c1c1c" stroke-width="0.6"/>
<path d="M353.7 82.7 A52.6 52.6 0 0 0 312.5 119.1" fill="none" stroke="#1c1c1c" stroke-width="1.3"/>
<path d="M405.8 111.6 A48.7 48.7 0 0 0 315.8 121.9" fill="none" stroke="#1c1c1c" stroke-width="1.3"/>
<path d="M381.2 112.5 A28.7 28.7 0 0 0 337.5 121" fill="none" stroke="#1c1c1c" stroke-width="1.2"/>
<path d="M374.2 113 A24.3 24.3 0 0 0 342.2 121.6" fill="none" stroke="#1c1c1c" stroke-width="1.2"/>
<circle cx="362.8" cy="134.5" r="13.2" fill="none" stroke="#1c1c1c" stroke-width="2.3"/>
<circle cx="362.8" cy="148.9" r="1.8" fill="none" stroke="#1c1c1c" stroke-width="0.8"/>
<line x1="362.8" y1="134.5" x2="358.9" y2="122.6" stroke="#1c1c1c" stroke-width="0.7"/>
<line x1="362.8" y1="134.5" x2="355.5" y2="124.4" stroke="#1c1c1c" stroke-width="0.7"/>
<line x1="362.8" y1="134.5" x2="352.7" y2="127.2" stroke="#1c1c1c" stroke-width="0.7"/>
<line x1="362.8" y1="134.5" x2="350.9" y2="130.6" stroke="#1c1c1c" stroke-width="0.7"/>
<line x1="362.8" y1="134.5" x2="350.3" y2="134.1" stroke="#1c1c1c" stroke-width="0.7"/>
<line x1="364.9" y1="121.7" x2="372.4" y2="77.3" stroke="#1c1c1c" stroke-width="0.7" stroke-dasharray="7 2 1.5 2"/>
<line x1="360.5" y1="121.7" x2="352.7" y2="77.4" stroke="#1c1c1c" stroke-width="0.7" stroke-dasharray="7 2 1.5 2"/>
<line x1="356.3" y1="123.2" x2="334" y2="84.2" stroke="#1c1c1c" stroke-width="0.7" stroke-dasharray="7 2 1.5 2"/>
<line x1="353" y1="126" x2="318.9" y2="96.6" stroke="#1c1c1c" stroke-width="0.7" stroke-dasharray="7 2 1.5 2"/>
<line x1="350.7" y1="129.8" x2="308.8" y2="113.3" stroke="#1c1c1c" stroke-width="0.7" stroke-dasharray="7 2 1.5 2"/>
<path d="M324 86.9 L336 76.5 L341.5 70" fill="none" stroke="#1c1c1c" stroke-width="1.1"/>
<line x1="315" y1="81.7" x2="335" y2="70.6" stroke="#1c1c1c" stroke-width="0.9"/>
<line x1="311.5" y1="103.5" x2="316" y2="88" stroke="#1c1c1c" stroke-width="0.9"/>
<line x1="300.5" y1="118" x2="304" y2="106" stroke="#1c1c1c" stroke-width="0.9"/>
<circle cx="352.2" cy="74.8" r="7.5" fill="#fff" stroke="#1c1c1c" stroke-width="0.7"/>
<circle cx="352.2" cy="74.8" r="4.6" fill="none" stroke="#1c1c1c" stroke-width="4.5"/>
<line x1="350.6" y1="74.8" x2="353.8" y2="74.8" stroke="#1c1c1c" stroke-width="0.6"/>
<line x1="352.2" y1="73.2" x2="352.2" y2="76.4" stroke="#1c1c1c" stroke-width="0.6"/>
<circle cx="373" cy="74.8" r="7.5" fill="#fff" stroke="#1c1c1c" stroke-width="0.7"/>
<circle cx="373" cy="74.8" r="4.6" fill="none" stroke="#1c1c1c" stroke-width="4.5"/>
<line x1="371.4" y1="74.8" x2="374.6" y2="74.8" stroke="#1c1c1c" stroke-width="0.6"/>
<line x1="373" y1="73.2" x2="373" y2="76.4" stroke="#1c1c1c" stroke-width="0.6"/>
<circle cx="393.8" cy="75" r="7.5" fill="#fff" stroke="#1c1c1c" stroke-width="0.7"/>
<circle cx="393.8" cy="75" r="4.6" fill="none" stroke="#1c1c1c" stroke-width="4.5"/>
<line x1="392.2" y1="75" x2="395.4" y2="75" stroke="#1c1c1c" stroke-width="0.6"/>
<line x1="393.8" y1="73.4" x2="393.8" y2="76.6" stroke="#1c1c1c" stroke-width="0.6"/>
<circle cx="414.3" cy="75" r="7.5" fill="#fff" stroke="#1c1c1c" stroke-width="0.7"/>
<circle cx="414.3" cy="75" r="4.6" fill="none" stroke="#1c1c1c" stroke-width="4.5"/>
<line x1="412.7" y1="75" x2="415.9" y2="75" stroke="#1c1c1c" stroke-width="0.6"/>
<line x1="414.3" y1="73.4" x2="414.3" y2="76.6" stroke="#1c1c1c" stroke-width="0.6"/>
<circle cx="434.8" cy="75" r="7.5" fill="#fff" stroke="#1c1c1c" stroke-width="0.7"/>
<circle cx="434.8" cy="75" r="4.6" fill="none" stroke="#1c1c1c" stroke-width="4.5"/>
<line x1="433.2" y1="75" x2="436.4" y2="75" stroke="#1c1c1c" stroke-width="0.6"/>
<line x1="434.8" y1="73.4" x2="434.8" y2="76.6" stroke="#1c1c1c" stroke-width="0.6"/>
<circle cx="332.6" cy="82" r="7.5" fill="#fff" stroke="#1c1c1c" stroke-width="0.7"/>
<circle cx="332.6" cy="82" r="4.6" fill="none" stroke="#1c1c1c" stroke-width="4.5"/>
<line x1="331" y1="82" x2="334.2" y2="82" stroke="#1c1c1c" stroke-width="0.6"/>
<line x1="332.6" y1="80.4" x2="332.6" y2="83.6" stroke="#1c1c1c" stroke-width="0.6"/>
<circle cx="317" cy="95" r="7.5" fill="#fff" stroke="#1c1c1c" stroke-width="0.7"/>
<circle cx="317" cy="95" r="4.6" fill="none" stroke="#1c1c1c" stroke-width="4.5"/>
<line x1="315.4" y1="95" x2="318.6" y2="95" stroke="#1c1c1c" stroke-width="0.6"/>
<line x1="317" y1="93.4" x2="317" y2="96.6" stroke="#1c1c1c" stroke-width="0.6"/>
<circle cx="306.1" cy="113.4" r="7.5" fill="#fff" stroke="#1c1c1c" stroke-width="0.7"/>
<circle cx="306.1" cy="113.4" r="4.6" fill="none" stroke="#1c1c1c" stroke-width="4.5"/>
<line x1="304.5" y1="113.4" x2="307.7" y2="113.4" stroke="#1c1c1c" stroke-width="0.6"/>
<line x1="306.1" y1="111.8" x2="306.1" y2="115" stroke="#1c1c1c" stroke-width="0.6"/>
<line x1="350" y1="63.5" x2="351.5" y2="68" stroke="#1c1c1c" stroke-width="0.6"/>
<line x1="374.5" y1="64" x2="373.5" y2="68" stroke="#1c1c1c" stroke-width="0.6"/>
<line x1="324.7" y1="69" x2="328.4" y2="75" stroke="#1c1c1c" stroke-width="0.6"/>
<line x1="306" y1="85.5" x2="310.5" y2="89.5" stroke="#1c1c1c" stroke-width="0.6"/>
<line x1="294" y1="105.5" x2="299" y2="108" stroke="#1c1c1c" stroke-width="0.6"/>
<path d="M280.2 62.1 L277.7 67.6 L282.9 86.9 L264.6 92.4 L261.2 98.3 L303.7 122.5" fill="none" stroke="#1c1c1c" stroke-width="1.3"/>
<line x1="283.2" y1="62.4" x2="324" y2="86.9" stroke="#1c1c1c" stroke-width="1.5"/>
<path d="M387.6 82 C387.8 82.5 388.3 84.2 389 85 C389.7 85.8 390.9 86.5 392 86.5 C393.1 86.5 394.6 86 395.6 85.2 C396.7 84.4 397.9 82.2 398.3 81.6" fill="none" stroke="#1c1c1c" stroke-width="1.4"/>
<path d="M402.2 81.8 C402.7 82.6 405.1 85.2 405.4 86.7 C405.7 88.2 404.3 89.7 404 91 C403.7 92.3 403.2 93.2 403.6 94.7 C404 96.2 405 99 406.3 100 C407.6 101 410.2 100.7 411.6 100.4 C413.1 100.1 413.9 98.3 415 98 C416.1 97.7 417.1 97.9 418 98.6 C418.9 99.2 419.9 100.7 420.2 101.9 C420.4 103.1 420.2 104.6 419.5 106 C418.8 107.4 416.9 109.2 416 110.5 C415.1 111.8 414.3 112.4 413.8 113.5 C413.3 114.6 413.3 116.4 413.2 117" fill="none" stroke="#1c1c1c" stroke-width="1.4"/>
<path d="M242 124.3 C246.7 124.4 261.2 124.8 270 124.8 C278.8 124.8 287.7 124 295 124 C302.3 124 310.7 124.4 313.8 124.5" fill="none" stroke="#1c1c1c" stroke-width="0.8"/>
<path d="M313.8 124.5 C315.2 124.3 319.3 123.5 322 123.2 C324.7 122.9 327.3 122.4 329.8 122.6 C332.3 122.8 334.6 123.7 337 124.6 C339.4 125.5 341.9 127 344 128 C346.1 129 348.7 130.3 349.6 130.8" fill="none" stroke="#1c1c1c" stroke-width="0.9"/>
<path d="M337 121 C338.3 120.2 342 117.7 345 116.5 C348 115.3 350.5 114.4 354.8 113.8 C359.1 113.2 365.8 112.7 370.8 112.8 C375.8 112.9 380.1 114 385 114.6 C389.9 115.2 395.4 116.1 400 116.5 C404.6 116.9 410.7 116.9 412.8 117" fill="none" stroke="#1c1c1c" stroke-width="0.9"/>
<path d="M412.8 117 C414.7 116.9 420.6 116.8 424 116.2 C427.4 115.6 430 115.1 433 113.4 C436 111.8 439.2 109.9 441.9 106.3 C444.6 102.7 447.1 96.8 449 92 C450.9 87.2 452.4 82.8 453.5 77.8 C454.6 72.8 455.2 64.7 455.5 62.1" fill="none" stroke="#1c1c1c" stroke-width="0.8"/>
<path d="M242 179.7 C247.5 180.2 263.8 181.7 275 182.5 C286.2 183.3 296.5 184.2 309 184.8 C321.5 185.4 337.8 185.9 350 186.2 C362.2 186.4 375.2 187.2 382.4 186.3 C389.6 185.4 389.4 182.8 393 181 C396.6 179.2 398.2 177.9 404 175.7 C409.8 173.5 421.4 170.1 428 167.8 C434.6 165.5 438.5 164.2 443.8 161.9 C449.1 159.6 455.9 156.3 459.6 154 C463.3 151.7 463.9 150.2 466 148 C468.1 145.8 470.4 144 472 141 C473.6 138 474.8 133.8 475.5 130 C476.2 126.2 476.6 123 476.5 118 C476.4 113 475.4 106.3 475 100 C474.6 93.7 473.8 85.6 474 80 C474.2 74.4 475.7 68.8 476 66.5" fill="none" stroke="#1c1c1c" stroke-width="0.8"/>
<path d="M501.5 66.6 C501.2 69.7 500.1 78.6 500 85 C499.9 91.4 500.6 98.3 501 105 C501.4 111.7 502 118.8 502.5 125 C503 131.2 503.1 136.2 504 142 C504.9 147.8 506.2 153.4 508 160 C509.8 166.6 512.7 175.9 515 181.7 C517.3 187.5 520 191.1 522 195 C524 198.9 525.3 201.6 527 205.4 C528.7 209.2 530.4 214.1 532 218 C533.6 221.9 534.7 225.3 536.8 229 C538.9 232.7 543.5 238.2 544.8 240" fill="none" stroke="#1c1c1c" stroke-width="0.8"/>
<path d="M493 241.6 C493.2 243.8 493.6 251.1 494.5 255 C495.4 258.9 497 261.7 498.6 265 C500.2 268.3 501.8 271.8 504 275 C506.2 278.2 509.3 281.6 512 284.3 C514.7 287 517.2 288.8 520 291 C522.8 293.2 526.2 295.4 529 297.7 C531.8 300 534.4 302.8 537 305 C539.6 307.2 541.9 309 544.4 311 C546.9 313 549.5 315.1 552 317 C554.5 318.9 556.9 320.7 559.6 322.4 C562.3 324.1 566.6 326.6 568 327.4" fill="none" stroke="#1c1c1c" stroke-width="1.1"/>
<path d="M313.8 124.5 L313.8 153.9 L412.8 153.9 L412.8 117" fill="none" stroke="#1c1c1c" stroke-width="1.3"/>
<line x1="313.8" y1="153.9" x2="314.7" y2="156.5" stroke="#1c1c1c" stroke-width="0.9"/>
<path d="M314.7 156.5 L325.6 156.5" fill="none" stroke="#1c1c1c" stroke-width="0.9"/>
<path d="M325.6 153.9 L325.6 164.8 L401 164.8 L401 153.9" fill="none" stroke="#1c1c1c" stroke-width="1.2"/>
<line x1="401" y1="157" x2="412.8" y2="157" stroke="#1c1c1c" stroke-width="0.8"/>
<line x1="412.8" y1="153.9" x2="412.8" y2="157" stroke="#1c1c1c" stroke-width="0.8"/>
<circle cx="337" cy="160.2" r="2.5" fill="#666" stroke="#1c1c1c" stroke-width="1.6"/>
<line x1="331" y1="160.2" x2="343" y2="160.2" stroke="#1c1c1c" stroke-width="0.6"/>
<circle cx="362.8" cy="160.2" r="2.5" fill="#666" stroke="#1c1c1c" stroke-width="1.6"/>
<line x1="356.8" y1="160.2" x2="368.8" y2="160.2" stroke="#1c1c1c" stroke-width="0.6"/>
<circle cx="388" cy="160.2" r="2.5" fill="#666" stroke="#1c1c1c" stroke-width="1.6"/>
<line x1="382" y1="160.2" x2="394" y2="160.2" stroke="#1c1c1c" stroke-width="0.6"/>
<line x1="412.8" y1="130.6" x2="442" y2="130.6" stroke="#1c1c1c" stroke-width="1.8"/>
<line x1="412.8" y1="138.6" x2="442" y2="138.6" stroke="#1c1c1c" stroke-width="1.8"/>
<line x1="412.8" y1="132.6" x2="442" y2="132.6" stroke="#1c1c1c" stroke-width="0.6"/>
<line x1="412.8" y1="136.6" x2="442" y2="136.6" stroke="#1c1c1c" stroke-width="0.6"/>
<rect x="442" y="122.4" width="13.6" height="24.6" fill="#fff" stroke="#1c1c1c" stroke-width="1.4"/>
<rect x="455.6" y="126" width="7.7" height="17.2" fill="#fff" stroke="#1c1c1c" stroke-width="1.3"/>
<rect x="463.3" y="129.8" width="7.7" height="9.6" fill="#fff" stroke="#1c1c1c" stroke-width="1.2"/>
<rect x="468.6" y="130.6" width="2.8" height="8" fill="#1c1c1c" stroke="#1c1c1c" stroke-width="0.8"/>
<line x1="442" y1="134.5" x2="471" y2="134.5" stroke="#1c1c1c" stroke-width="0.6"/>
<line x1="455.6" y1="130" x2="463.3" y2="130" stroke="#1c1c1c" stroke-width="0.6"/>
<line x1="455.6" y1="139.2" x2="463.3" y2="139.2" stroke="#1c1c1c" stroke-width="0.6"/>
<circle cx="551.7" cy="134.5" r="31.5" fill="none" stroke="#1c1c1c" stroke-width="1.3"/>
<circle cx="551.7" cy="134.5" r="25.6" fill="none" stroke="#1c1c1c" stroke-width="0.8" stroke-dasharray="9 2 2 2"/>
<circle cx="551.7" cy="134.5" r="15.4" fill="none" stroke="#1c1c1c" stroke-width="1.3"/>
<circle cx="551.7" cy="134.5" r="13.2" fill="none" stroke="#1c1c1c" stroke-width="0.8"/>
<circle cx="551.7" cy="134.5" r="11.1" fill="none" stroke="#1c1c1c" stroke-width="1.3" stroke-dasharray="1.8 1.6"/>
<circle cx="551.7" cy="134.5" r="8.6" fill="none" stroke="#1c1c1c" stroke-width="1.2"/>
<circle cx="551.7" cy="134.5" r="6.2" fill="none" stroke="#1c1c1c" stroke-width="1.2"/>
<line x1="551.7" y1="97" x2="551.7" y2="172" stroke="#1c1c1c" stroke-width="0.7"/>
<circle cx="551.7" cy="108.9" r="2.5" fill="#1c1c1c" stroke="#1c1c1c" stroke-width="1.7"/>
<circle cx="529.5" cy="147.3" r="2.5" fill="#777" stroke="#1c1c1c" stroke-width="1.7"/>
<circle cx="573.9" cy="147.3" r="2.5" fill="#777" stroke="#1c1c1c" stroke-width="1.7"/>
<line x1="532" y1="34.8" x2="552.6" y2="34.8" stroke="#1c1c1c" stroke-width="0.9"/>
<line x1="552.6" y1="34.8" x2="552.6" y2="47" stroke="#1c1c1c" stroke-width="1.2"/>
<path d="M532 34.8 L538 33.3 L538 36.3 Z" fill="#1c1c1c" stroke="#1c1c1c" stroke-width="0.5"/>
<text x="557.2" y="36.8" font-family="'Liberation Serif', serif" font-size="8" font-weight="bold" text-anchor="middle" fill="#1c1c1c" font-style="italic">A</text>
<path d="M511.1 211.3 L511.1 201.4 L520.2 201.4" fill="none" stroke="#1c1c1c" stroke-width="1.2"/>
<text x="505" y="203" font-family="'Liberation Serif', serif" font-size="6.5" font-weight="bold" text-anchor="middle" fill="#1c1c1c" font-style="italic">A</text>
<path d="M542.8 200.6 L554.6 200.6 L554.6 189.6" fill="none" stroke="#1c1c1c" stroke-width="1.2"/>
<text x="559" y="203" font-family="'Liberation Serif', serif" font-size="6.5" font-weight="bold" text-anchor="middle" fill="#1c1c1c" font-style="italic">A</text>
<line x1="491" y1="307.2" x2="510.8" y2="307.2" stroke="#1c1c1c" stroke-width="0.9"/>
<line x1="510.8" y1="295" x2="510.8" y2="307.2" stroke="#1c1c1c" stroke-width="1.2"/>
<path d="M491 307.2 L497 305.8 L497 308.6 Z" fill="#1c1c1c" stroke="#1c1c1c" stroke-width="0.5"/>
<text x="516" y="310.5" font-family="'Liberation Serif', serif" font-size="6.5" font-weight="bold" text-anchor="middle" fill="#1c1c1c" font-style="italic">A</text>
<text x="284.8" y="22" font-family="'Liberation Serif', serif" font-size="8" font-weight="bold" text-anchor="middle" fill="#1c1c1c" >1</text>
<line x1="285" y1="23.4" x2="322.5" y2="84" stroke="#1c1c1c" stroke-width="0.8"/>
<text x="310.4" y="22" font-family="'Liberation Serif', serif" font-size="8" font-weight="bold" text-anchor="middle" fill="#1c1c1c" >2</text>
<line x1="310.6" y1="24.3" x2="350.8" y2="44.2" stroke="#1c1c1c" stroke-width="0.8"/>
<text x="335.2" y="276.5" font-family="'Liberation Serif', serif" font-size="8" font-weight="bold" text-anchor="middle" fill="#1c1c1c" >7</text>
<line x1="336.9" y1="266.8" x2="385.5" y2="146" stroke="#1c1c1c" stroke-width="0.8"/>
<text x="408.2" y="277.5" font-family="'Liberation Serif', serif" font-size="8" font-weight="bold" text-anchor="middle" fill="#1c1c1c" >8</text>
<line x1="409" y1="268" x2="432.3" y2="134.7" stroke="#1c1c1c" stroke-width="0.8"/>
<g role="img" aria-label="图 50-56 链条式传送机的结构图  1—V 形板 2—链条 3—长导板 4,5—链轮 6—减速器 7—滑块 8—调整螺钉"><title>图 50-56 链条式传送机的结构图</title><desc>1—V 形板 2—链条 3—长导板 4,5—链轮 6—减速器 7—滑块 8—调整螺钉</desc>
<g transform="rotate(0.3 338 373)" fill="#0a0a0a" stroke="#0a0a0a" stroke-width="0.3" stroke-linejoin="round"><text x="270.8 313.2 322.6 332.1 341.6 351 360.4 369.9 379.3 388.8 398.2" y="376.1" font-family="'Liberation Sans', 'Noto Sans CJK SC', sans-serif" font-size="8" font-weight="bold">图链条式传送机的结构图</text></g>
<g transform="rotate(0.6 338 389)" fill="#0a0a0a" stroke="#0a0a0a" stroke-width="0.3" stroke-linejoin="round"><text x="190.2 200.3 231.6 242.6 275.2 284.4 293.6 335.5 344.6 377.9 387.7 397.5 429.2 439.3 471.5 481.1 490.7 500.3" y="391.3" font-family="'Liberation Sans', 'Noto Sans CJK SC', sans-serif" font-size="8" font-weight="bold">形板链条长导板链轮减速器滑块调整螺钉</text></g>
</g>
</g>
</svg>
<div class="cap"><div class="r1"><span class="t" style="left:282px">50-56</span></div><div class="r2"><span class="n" style="left:167.6px">1<u>—</u>V</span><span class="n" style="left:218.6px">2<u>—</u></span><span class="n" style="left:260.9px">3<u>—</u></span><span class="n" style="left:312px">4,5<u>—</u></span><span class="n" style="left:363.7px">6<u>—</u></span><span class="n" style="left:415.6px">7<u>—</u></span><span class="n" style="left:457.6px">8<u>—</u></span></div></div>
</body></html>
